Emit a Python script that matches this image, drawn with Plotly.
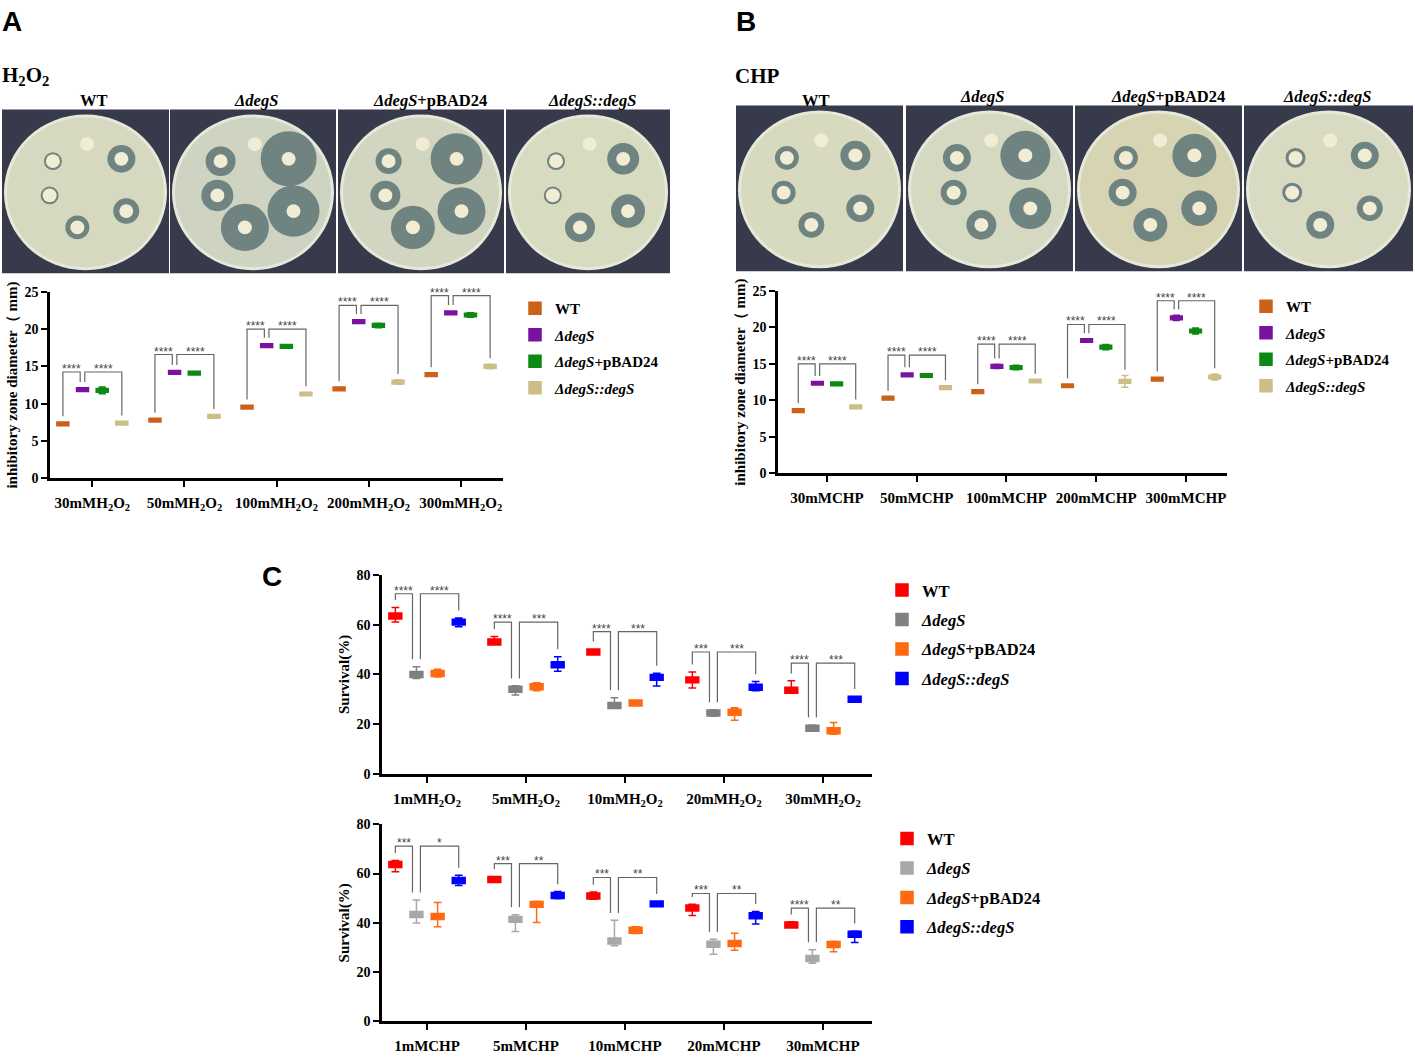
import plotly.graph_objects as go

W, H = 1415, 1058
SERIF = "Liberation Serif"

# ---------------- data ----------------
strain_names = ["WT", "<i>ΔdegS</i>", "<i>ΔdegS</i>+pBAD24", "<i>ΔdegS::degS</i>"]

# panel A : inhibitory zone diameter (mm), H2O2 discs
a_labels = ["30mMH<sub>2</sub>O<sub>2</sub>", "50mMH<sub>2</sub>O<sub>2</sub>", "100mMH<sub>2</sub>O<sub>2</sub>",
            "200mMH<sub>2</sub>O<sub>2</sub>", "300mMH<sub>2</sub>O<sub>2</sub>"]
a_wt = [7.3, 7.8, 9.55, 12.0, 13.9]
a_del = [11.9, 14.2, 17.8, 21.0, 22.2]
a_pbad = [11.8, 14.1, 17.7, 20.5, 21.9]
a_comp = [7.4, 8.3, 11.3, 12.9, 15.0]
a_wt_err = [0.2, 0.2, 0.2, 0.2, 0.2]
a_del_err = [0.2, 0.2, 0.25, 0.25, 0.25]
a_pbad_err = [0.45, 0.2, 0.2, 0.3, 0.3]
a_comp_err = [0.2, 0.2, 0.25, 0.3, 0.3]
a_bracket = [14.25, 16.6, 20.0, 23.2, 24.5]
a_stars = [("****", "****")] * 5

# panel B : inhibitory zone diameter (mm), CHP discs
b_labels = ["30mMCHP", "50mMCHP", "100mMCHP", "200mMCHP", "300mMCHP"]
b_wt = [8.6, 10.3, 11.2, 12.0, 12.9]
b_del = [12.35, 13.5, 14.65, 18.2, 21.3]
b_pbad = [12.25, 13.4, 14.5, 17.3, 19.5]
b_comp = [9.1, 11.75, 12.65, 12.6, 13.2]
b_wt_err = [0.2, 0.2, 0.2, 0.2, 0.25]
b_del_err = [0.2, 0.25, 0.3, 0.2, 0.35]
b_pbad_err = [0.2, 0.2, 0.3, 0.35, 0.4]
b_comp_err = [0.2, 0.2, 0.2, 0.8, 0.4]
b_bracket = [15.0, 16.2, 17.7, 20.4, 23.65]
b_stars = [("****", "****")] * 5

# panel C top : survival (%), H2O2
c1_labels = ["1mMH<sub>2</sub>O<sub>2</sub>", "5mMH<sub>2</sub>O<sub>2</sub>", "10mMH<sub>2</sub>O<sub>2</sub>",
             "20mMH<sub>2</sub>O<sub>2</sub>", "30mMH<sub>2</sub>O<sub>2</sub>"]
c1_wt = [63.5, 53.0, 49.0, 37.8, 33.6]
c1_wt_lo = [61.0, 52.1, 48.0, 34.5, 32.4]
c1_wt_hi = [66.9, 55.2, 50.2, 41.0, 37.4]
c1_del = [40.0, 34.0, 27.5, 24.5, 18.4]
c1_del_lo = [38.4, 31.7, 26.6, 23.2, 17.3]
c1_del_hi = [43.1, 35.4, 30.6, 25.8, 19.7]
c1_pbad = [40.4, 35.0, 28.5, 24.8, 17.4]
c1_pbad_lo = [39.0, 33.4, 27.4, 21.6, 16.0]
c1_pbad_hi = [42.1, 36.6, 29.5, 26.6, 20.7]
c1_comp = [61.0, 43.9, 38.8, 34.8, 30.0]
c1_comp_lo = [59.1, 41.3, 35.3, 33.4, 29.0]
c1_comp_hi = [62.7, 47.1, 40.5, 37.1, 31.1]
c1_bracket = [72.4, 61.0, 57.2, 49.0, 44.5]
c1_stars = [("****", "****"), ("****", "***"), ("****", "***"), ("***", "***"), ("****", "***")]

# panel C bottom : survival (%), CHP
c2_labels = ["1mMCHP", "5mMCHP", "10mMCHP", "20mMCHP", "30mMCHP"]
c2_wt = [63.7, 57.6, 50.9, 46.0, 39.1]
c2_wt_lo = [60.7, 56.4, 49.6, 43.0, 38.0]
c2_wt_hi = [65.3, 58.8, 52.5, 47.5, 40.4]
c2_del = [43.4, 41.4, 32.6, 31.3, 25.5]
c2_del_lo = [39.9, 36.5, 30.7, 27.3, 23.6]
c2_del_hi = [49.3, 43.3, 41.0, 33.3, 29.1]
c2_pbad = [42.6, 47.5, 37.0, 31.6, 31.2]
c2_pbad_lo = [38.4, 40.1, 35.7, 28.9, 28.3]
c2_pbad_hi = [48.3, 48.8, 38.4, 35.8, 32.5]
c2_comp = [57.2, 51.1, 47.7, 42.9, 35.4]
c2_comp_lo = [55.1, 49.8, 46.7, 39.5, 32.0]
c2_comp_hi = [59.3, 52.7, 48.7, 44.6, 36.7]
c2_bracket = [71.1, 64.0, 58.4, 51.9, 46.0]
c2_stars = [("***", "*"), ("***", "**"), ("***", "**"), ("***", "**"), ("****", "**")]

# zone radii (px) of the six discs on each plate photo
a_zones = [[0, 9, 14, 9, 13, 12], [0, 15, 28, 16, 26, 24], [0, 13, 26, 15, 24, 22], [0, 9, 16, 9, 17, 15]]
b_zones = [[0, 12, 15, 12, 14, 13], [0, 14, 25, 13, 21, 15], [0, 12, 22, 14, 18, 17], [0, 10, 14, 10, 13, 14]]

colors_ab = ["#CC6119", "#7A12A0", "#0B8A12", "#CBBE86"]
colors_c1 = ["#FF0000", "#808080", "#FF6A10", "#0000FF"]
colors_c2 = ["#FF0000", "#A8A8A8", "#FF6A10", "#0000FF"]

offsets = [-0.32, -0.107, 0.107, 0.32]

fig = go.Figure()
shapes = []
annotations = []


def add_panel(n, means, los, his, colors, legend, half, width, gap, bracket, stars, leg_dx):
    xa = "x" if n == 1 else f"x{n}"
    ya = "y" if n == 1 else f"y{n}"
    for j in range(4):
        xs = [i + offsets[j] for i in range(len(means[j]))]
        fig.add_trace(go.Box(
            x=xs, median=means[j],
            q1=[m - half for m in means[j]], q3=[m + half for m in means[j]],
            lowerfence=los[j], upperfence=his[j],
            width=width, whiskerwidth=0.6, fillcolor=colors[j],
            line=dict(color=colors[j], width=1.5), boxpoints=False,
            name=strain_names[j], legend=legend, legendgroup=f"{legend}_{j}",
            hoverinfo="skip", xaxis=xa, yaxis=ya))
    line = dict(color="#666666", width=1.2)
    for i in range(len(bracket)):
        top = bracket[i]
        xw, xd, xc = i + offsets[0], i + offsets[1], i + offsets[3]
        bw = his[0][i] + gap
        bd = his[1][i] + gap
        bc = his[3][i] + gap
        pairs = [((xw, bw), (xd - leg_dx, bd), stars[i][0]), ((xd + leg_dx, bd), (xc, bc), stars[i][1])]
        for (x0, y0), (x1, y1), s in pairs:
            shapes.append(dict(type="path", xref=xa, yref=ya, line=line,
                               path=f"M{x0},{y0} L{x0},{top} L{x1},{top} L{x1},{y1}"))
            annotations.append(dict(x=(x0 + x1) / 2, y=top, xref=xa, yref=ya, text=s, showarrow=False,
                                    yanchor="bottom", yshift=-6,
                                    font=dict(family="Liberation Sans", size=12, color="#444444")))


def spread(vals, errs, sign):
    return [[m + sign * e for m, e in zip(v, er)] for v, er in zip(vals, errs)]


a_vals = [a_wt, a_del, a_pbad, a_comp]
a_errs = [a_wt_err, a_del_err, a_pbad_err, a_comp_err]
b_vals = [b_wt, b_del, b_pbad, b_comp]
b_errs = [b_wt_err, b_del_err, b_pbad_err, b_comp_err]

add_panel(1, a_vals, spread(a_vals, a_errs, -1), spread(a_vals, a_errs, 1),
          colors_ab, "legend", 0.25, 0.13, 0.8, a_bracket, a_stars, 0.025)
add_panel(2, b_vals, spread(b_vals, b_errs, -1), spread(b_vals, b_errs, 1),
          colors_ab, "legend2", 0.25, 0.13, 0.8, b_bracket, b_stars, 0.025)
add_panel(3, [c1_wt, c1_del, c1_pbad, c1_comp],
          [c1_wt_lo, c1_del_lo, c1_pbad_lo, c1_comp_lo],
          [c1_wt_hi, c1_del_hi, c1_pbad_hi, c1_comp_hi],
          colors_c1, "legend3", 1.2, 0.13, 3.0, c1_bracket, c1_stars, 0.04)
add_panel(4, [c2_wt, c2_del, c2_pbad, c2_comp],
          [c2_wt_lo, c2_del_lo, c2_pbad_lo, c2_comp_lo],
          [c2_wt_hi, c2_del_hi, c2_pbad_hi, c2_comp_hi],
          colors_c2, "legend4", 1.2, 0.13, 3.0, c2_bracket, c2_stars, 0.04)


# ---------------- plate photos (drawn) ----------------
def circ(cx, cy, rx, ry, fill):
    return dict(type="circle", xref="paper", yref="paper", layer="below",
                x0=(cx - rx) / W, x1=(cx + rx) / W, y0=1 - (cy + ry) / H, y1=1 - (cy - ry) / H,
                fillcolor=fill, line=dict(width=0))


spot_pos = [(0.02, -0.62), (-0.40, -0.40), (0.44, -0.43), (-0.44, 0.04), (0.50, 0.24), (-0.10, 0.45)]


def plates(panels, y0, y1, zones, agar):
    for (x0, x1), zr, ag in zip(panels, zones, agar):
        shapes.append(dict(type="rect", xref="paper", yref="paper", layer="below",
                           x0=x0 / W, x1=x1 / W, y0=1 - y1 / H, y1=1 - y0 / H,
                           fillcolor="#363a4b", line=dict(width=0)))
        cx, cy = (x0 + x1) / 2, (y0 + y1) / 2 + 1
        rx, ry = (x1 - x0) / 2 - 2, (y1 - y0) / 2 - 4
        shapes.append(circ(cx, cy, rx, ry, "#e6e8da"))
        shapes.append(circ(cx, cy, rx - 3, ry - 3, ag))
        for (dx, dy), r in zip(spot_pos, zr):
            sx, sy = cx + dx * rx, cy + dy * ry
            if r:
                shapes.append(circ(sx, sy, r, r, "#6f8381"))
            shapes.append(circ(sx, sy, 7, 7, "#f1ecd4"))


plates([(2, 169), (170, 336), (338, 504), (506, 670)], 104, 270, a_zones,
       ["#d6d9bf", "#cfd3c1", "#d2d5c0", "#d7dbbf"])
plates([(736, 903), (906, 1073), (1075, 1242), (1244, 1413)], 100, 268, b_zones,
       ["#d8dabf", "#d6d9c2", "#d6d4b2", "#d8dbc2"])


def label(x, y, text, size=16.5, family=SERIF, xanchor="center"):
    annotations.append(dict(x=x / W, y=1 - y / H, xref="paper", yref="paper", text=text, showarrow=False,
                            xanchor=xanchor, yanchor="middle",
                            font=dict(family=family, size=size, color="black", weight="bold")))


for x, t in zip([94, 256, 430, 592], strain_names):
    label(x, 95, t)
for x, y, t in zip([816, 982, 1168, 1327], [95, 91, 91, 91], strain_names):
    label(x, y, t)
label(0, 70, "H<sub>2</sub>O<sub>2</sub>", size=21, xanchor="left")
label(733, 70, "CHP", size=21, xanchor="left")
label(0, 15, "A", size=28, family="Liberation Sans Narrow, Liberation Sans", xanchor="left")
label(734, 15, "B", size=28, family="Liberation Sans Narrow, Liberation Sans", xanchor="left")
label(260, 578, "C", size=28, family="Liberation Sans Narrow, Liberation Sans", xanchor="left")


# ---------------- axes ----------------
def xdom(a, b):
    return [a / W, b / W]


def ydom(top, bottom):
    return [1 - bottom / H, 1 - top / H]


axis_common = dict(showline=True, linecolor="black", linewidth=2.5, ticks="outside", ticklen=6,
                   tickwidth=2, tickcolor="black", showgrid=False, zeroline=False)
xfont = dict(family=SERIF, size=15, color="black", weight="bold")
yfont = dict(family=SERIF, size=14, color="black", weight="bold")
titlefont = dict(family=SERIF, size=15, color="black", weight="bold")

panels_axes = [
    (1, xdom(50, 503), ydom(289, 478), [-0.46, 4.46], [0, 25], 5, a_labels,
     "inhibitory zone diameter（ mm)"),
    (2, xdom(778, 1227), ydom(288, 473), [-0.546, 4.457], [0, 25], 5, b_labels,
     "inhibitory zone diameter（ mm)"),
    (3, xdom(382, 872), ydom(576, 778), [-0.455, 4.495], [0, 80], 20, c1_labels, "Survival(%)"),
    (4, xdom(382, 872), ydom(829, 1029), [-0.455, 4.495], [0, 80], 20, c2_labels, "Survival(%)"),
]
layout_axes = {}
for n, xd, yd, xr, yr, dt, labs, ytitle in panels_axes:
    xk = "xaxis" if n == 1 else f"xaxis{n}"
    yk = "yaxis" if n == 1 else f"yaxis{n}"
    layout_axes[xk] = dict(domain=xd, range=xr, tickvals=list(range(5)), ticktext=labs, tickfont=xfont,
                           ticklabelstandoff=3, anchor="y" if n == 1 else f"y{n}", **axis_common)
    layout_axes[yk] = dict(domain=yd, range=yr, dtick=dt, anchor="x" if n == 1 else f"x{n}", tickfont=yfont,
                           title=dict(text=ytitle, standoff=4, font=titlefont), **axis_common)


def legend_at(x, y, size, gap):
    return dict(x=x / W, y=1 - y / H, xanchor="left", yanchor="top", bgcolor="rgba(0,0,0,0)",
                font=dict(family=SERIF, size=size, color="black", weight="bold"), tracegroupgap=gap,
                itemclick=False)


fig.update_layout(
    width=W, height=H, margin=dict(l=0, r=0, t=0, b=0),
    paper_bgcolor="white", plot_bgcolor="rgba(0,0,0,0)",
    boxmode="overlay", showlegend=True,
    legend=legend_at(515, 289, 15, 4), legend2=legend_at(1246, 287, 15, 4),
    legend3=legend_at(882, 574, 16.5, 5), legend4=legend_at(887, 826, 16.5, 5),
    shapes=shapes, annotations=annotations,
    **layout_axes,
)

fig.write_html(
    "out.html",
    config={"displayModeBar": False},
    post_script=(
        "document.documentElement.style.margin='0';document.body.style.margin='0';"
        "document.body.style.overflow='hidden';"
        "var d=document.getElementById('{plot_id}');"
        "d.style.position='absolute';d.style.left='0px';d.style.top='0px';"
    ),
)
